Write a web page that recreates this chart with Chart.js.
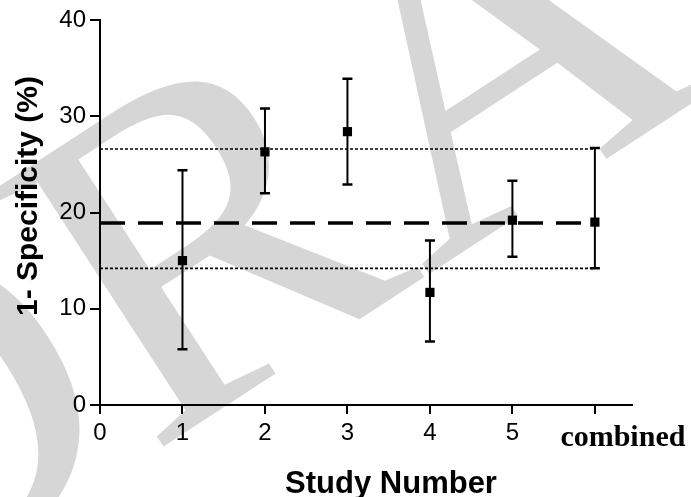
<!DOCTYPE html>
<html>
<head>
<meta charset="utf-8">
<script src="https://cdn.jsdelivr.net/npm/chart.js@4"></script>
<style>
html,body{margin:0;padding:0;background:#fff;}
#wrap{width:691px;height:497px;position:relative;}
</style>
</head>
<body>
<div id="wrap"><canvas id="chart" width="691" height="497"></canvas></div>
<script>
// study values (1 - specificity, %)
const studies=[1,2,3,4,5,6];
const estimates=[15.0,26.3,28.4,11.7,19.2,19.0];
const lower=[5.8,22.0,22.9,6.6,15.4,14.2];
const upper=[24.4,30.8,33.9,17.1,23.3,26.7];
const pooled=18.9;
const pooledLow=14.2;
const pooledHigh=26.6;
const xTickLabels=['0','1','2','3','4','5','combined'];
const yTicks=[0,10,20,30,40];

const SANS="'Liberation Sans', Arial, sans-serif";
const SERIF="'Liberation Serif', 'Times New Roman', serif";

// watermark behind everything
const watermark={
  id:'watermark',
  beforeDraw(c){
    const ctx=c.ctx;
    ctx.save();
    ctx.translate(-150,650);
    ctx.rotate(-33*Math.PI/180);
    ctx.scale(1.05,1);
    ctx.fillStyle='#d6d6d6';
    ctx.font='470px '+SERIF;
    ctx.textAlign='left';
    ctx.textBaseline='alphabetic';
    ctx.fillText('DRAFT',0,0);
    ctx.restore();
  }
};

// error bars + extra text
const extras={
  id:'extras',
  afterDatasetsDraw(c){
    const ctx=c.ctx, xs=c.scales.x, ys=c.scales.y;
    ctx.save();
    ctx.strokeStyle='#000';
    studies.forEach((s,i)=>{
      const px=xs.getPixelForValue(s);
      const lo=ys.getPixelForValue(lower[i]);
      const hi=ys.getPixelForValue(upper[i]);
      ctx.lineWidth=2;
      ctx.beginPath();ctx.moveTo(px,lo);ctx.lineTo(px,hi);ctx.stroke();
      ctx.lineWidth=2.5;
      ctx.beginPath();
      ctx.moveTo(px-5,lo);ctx.lineTo(px+5,lo);
      ctx.moveTo(px-5,hi);ctx.lineTo(px+5,hi);
      ctx.stroke();
    });
    ctx.restore();
  },
  afterDraw(c){
    const ctx=c.ctx, xs=c.scales.x, a=c.chartArea;
    ctx.save();
    ctx.fillStyle='#000';
    ctx.textAlign='center';
    ctx.textBaseline='alphabetic';
    ctx.font='bold 30px '+SERIF;
    ctx.fillText(xTickLabels[6],xs.getPixelForValue(6)+28,446);
    ctx.font='bold 31px '+SANS;
    ctx.fillText('Study Number',a.left+(a.right-a.left)*0.547,493);
    ctx.font='bold 30px '+SANS;
    ctx.translate(37,196);
    ctx.rotate(-Math.PI/2);
    ctx.fillText('1- Specificity (%)',0,0);
    ctx.restore();
  }
};

const refLine=(y,dash,w)=>({
  type:'line',
  data:[{x:0,y:y},{x:6,y:y}],
  borderColor:'#000',borderWidth:w,borderDash:dash,
  pointRadius:0,fill:false,order:2
});

new Chart(document.getElementById('chart'),{
  type:'scatter',
  data:{datasets:[
    refLine(pooled,[25,13],3.5),
    refLine(pooledHigh,[3,2],1.7),
    refLine(pooledLow,[3,2],1.7),
    {
      type:'scatter',
      data:studies.map((s,i)=>({x:s,y:estimates[i]})),
      pointStyle:'rect',pointRadius:6.5,pointBorderWidth:0,
      backgroundColor:'#000',borderColor:'#000',order:1
    }
  ]},
  options:{
    responsive:false,animation:false,
    layout:{padding:{top:20,right:59,left:0,bottom:0}},
    plugins:{legend:{display:false},tooltip:{enabled:false}},
    scales:{
      x:{
        type:'linear',min:0,max:6.45,
        afterFit(s){s.height=92;},
        border:{color:'#000',width:2},
        grid:{drawOnChartArea:false,drawTicks:true,tickLength:9,color:'#000',lineWidth:2},
        ticks:{stepSize:1,includeBounds:false,padding:5,color:'#000',font:{family:SANS,size:24},
          maxRotation:0,autoSkip:false,
          callback:v=>v<6?xTickLabels[v]:''}
      },
      y:{
        min:0,max:40,
        afterFit(s){s.width=100;},
        afterBuildTicks(s){s.ticks=yTicks.map(v=>({value:v}));},
        border:{color:'#000',width:2},
        grid:{drawOnChartArea:false,drawTicks:true,tickLength:10,color:'#000',lineWidth:2},
        ticks:{padding:4,color:'#000',font:{family:SANS,size:24}}
      }
    }
  },
  plugins:[watermark,extras]
});
</script>
</body>
</html>
